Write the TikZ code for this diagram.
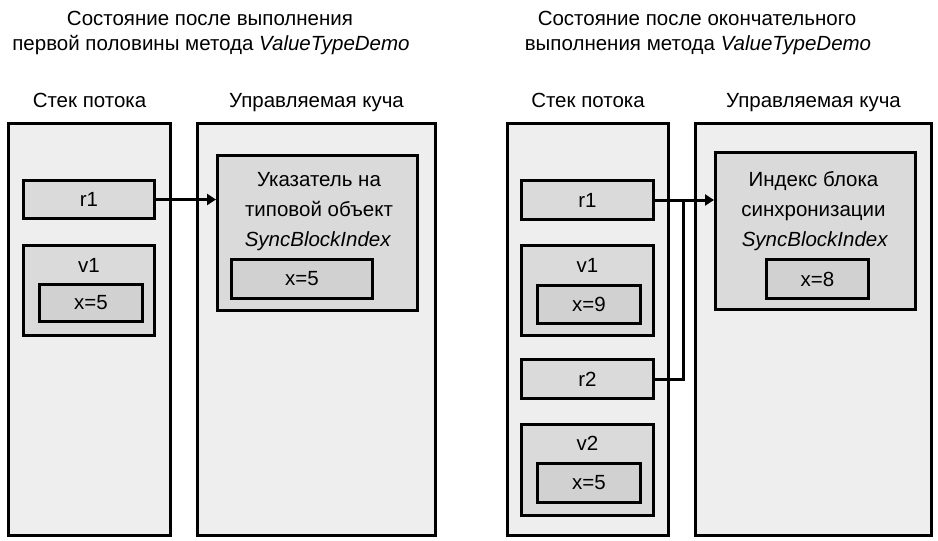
\documentclass[tikz,border=0pt]{standalone}
\usepackage{fontspec}
\setmainfont{Liberation Sans}
\usetikzlibrary{arrows.meta}
\definecolor{outerfill}{HTML}{EEEEEE}
\definecolor{midfill}{HTML}{DADADA}
\definecolor{innerfill}{HTML}{D1D1D1}
\begin{document}
\begin{tikzpicture}[x=1pt,y=-1pt,
  every node/.style={font=\fontsize{20.5}{26}\selectfont, inner sep=0pt},
  panel/.style={draw=black, line width=3pt, fill=outerfill},
  midbox/.style={draw=black, line width=3pt, fill=midfill},
  innerbox/.style={draw=black, line width=3pt, fill=innerfill},
  txt/.style={anchor=base},
  conn/.style={line width=3pt},
  arr/.style={line width=3pt, -{Triangle[length=9pt,width=11pt]}}]
\useasboundingbox (0,0) rectangle (938,541);
% titles
\node[txt] (tL1) at (210,25) {Состояние после выполнения};
\node[txt] (tL2) at (211,50) {первой половины метода \textit{ValueTypeDemo}};
\node[txt] (tR1) at (697,25) {Состояние после окончательного};
\node[txt] (tR2) at (698,50) {выполнения метода \textit{ValueTypeDemo}};
% column headers
\node[txt] (hSL) at (89.5,107) {Стек потока};
\node[txt] (hHL) at (316.5,107) {Управляемая куча};
\node[txt] (hSR) at (588,107) {Стек потока};
\node[txt] (hHR) at (813.5,107) {Управляемая куча};
% ---------- left panel ----------
\node[panel, minimum width=162pt, minimum height=412pt] (stackL) at (89.5,329.5) {};
\node[panel, minimum width=238pt, minimum height=412pt] (heapL) at (316.5,329.5) {};
\node[midbox, minimum width=131pt, minimum height=38pt] (r1L) at (89,199.5) {r1};
\node[midbox, minimum width=131pt, minimum height=90pt] (v1L) at (89,290.5) {};
\node[txt] (v1Llab) at (89,272.5) {v1};
\node[innerbox, minimum width=103pt, minimum height=37pt] (x5L) at (91,303) {x=5};
\node[midbox, minimum width=200pt, minimum height=155pt] (objL) at (317.5,233) {};
\node[txt] (oL1) at (319,186) {Указатель на};
\node[txt] (oL2) at (319,216) {типовой объект};
\node[txt] (oL3) at (318,246) {\textit{SyncBlockIndex}};
\node[innerbox, minimum width=141pt, minimum height=39pt] (xhL) at (302,279) {x=5};
\draw[arr] (r1L.east) -- (r1L.east -| objL.west);
% ---------- right panel ----------
\node[panel, minimum width=161pt, minimum height=412pt] (stackR) at (588,329.5) {};
\node[panel, minimum width=236pt, minimum height=412pt] (heapR) at (813.5,329.5) {};
\node[midbox, minimum width=132pt, minimum height=39pt] (r1R) at (587.5,200) {r1};
\node[midbox, minimum width=132pt, minimum height=90pt] (v1R) at (587.5,290.5) {};
\node[txt] (v1Rlab) at (587.5,272.5) {v1};
\node[innerbox, minimum width=103pt, minimum height=38pt] (x9) at (589,304.5) {x=9};
\node[midbox, minimum width=132pt, minimum height=39pt] (r2) at (587.5,379) {r2};
\node[midbox, minimum width=132pt, minimum height=91pt] (v2) at (587.5,470) {};
\node[txt] (v2lab) at (587.5,450) {v2};
\node[innerbox, minimum width=103pt, minimum height=39pt] (x5R) at (589,483) {x=5};
\node[midbox, minimum width=200pt, minimum height=157pt] (objR) at (815.5,231) {};
\node[txt] (oR1) at (813.5,186) {Индекс блока};
\node[txt] (oR2) at (813.5,216) {синхронизации};
\node[txt] (oR3) at (815,246) {\textit{SyncBlockIndex}};
\node[innerbox, minimum width=102pt, minimum height=39pt] (x8) at (817.5,279) {x=8};
\coordinate (jn) at (683,200);
\draw[arr] (r1R.east) -- (r1R.east -| objR.west);
\draw[conn] (r2.east) -| (jn);
\end{tikzpicture}
\end{document}
